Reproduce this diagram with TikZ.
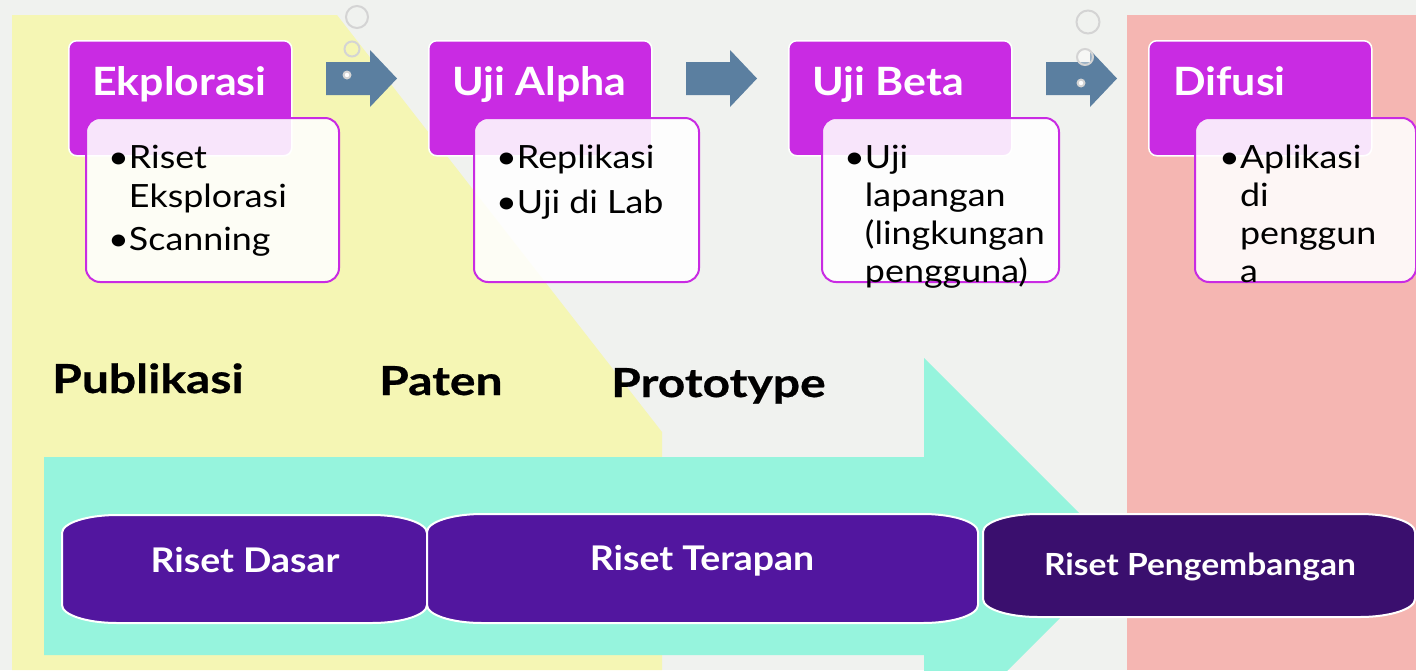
\documentclass[tikz,border=0pt]{standalone}
\usepackage{fontspec}
\setmainfont{Lato}
\newfontfamily\bodyf[FakeStretch=1.12]{Lato}
\newfontfamily\boldf[FakeStretch=1.1]{Lato}
\newfontfamily\lblf[FakeStretch=1.2,FakeBold=0.6]{Lato}
\definecolor{bgc}{RGB}{240,242,239}
\definecolor{yel}{RGB}{245,246,180}
\definecolor{pnk}{RGB}{245,182,178}
\definecolor{teal2}{RGB}{150,244,221}
\definecolor{steel}{RGB}{91,127,160}
\definecolor{mag}{RGB}{201,43,227}
\definecolor{purA}{RGB}{82,22,159}
\definecolor{purB}{RGB}{58,15,110}
\definecolor{ring}{RGB}{212,212,212}
\newcommand\ribbonbox[5]{%
 \filldraw[fill=#5, draw=white, line width=2pt]
  (#1,{#2+18}) .. controls (#1,{#2+8}) and ({#1+25},#2) .. ({#1+55},#2)
  -- ({#3-55},#2) .. controls ({#3-25},#2) and (#3,{#2+8}) .. (#3,{#2+18})
  -- (#3,{#4-18}) .. controls (#3,{#4-8}) and ({#3-25},#4) .. ({#3-55},#4)
  -- ({#1+55},#4) .. controls ({#1+25},#4) and (#1,{#4-8}) .. (#1,{#4-18}) -- cycle;}
\tikzset{
 body/.style={anchor=base west, inner sep=0pt, font=\bodyf\fontsize{32}{38}\selectfont, text=black},
 ttl/.style={anchor=base west, inner sep=0pt, font=\boldf\bfseries\fontsize{39}{44}\selectfont, text=white},
 lbl/.style={anchor=base west, inner sep=0pt, font=\lblf\bfseries\fontsize{40}{44}\selectfont, text=black},
 rtext/.style={anchor=base, inner sep=0pt, font=\boldf\bfseries\fontsize{34}{38}\selectfont, text=white},
 tbox/.style={anchor=north west, inner sep=0pt, fill=mag, draw=white, line width=1.5pt, rounded corners=8pt, minimum width=223pt, minimum height=115pt},
 dbox/.style={anchor=north west, inner sep=0pt, fill=white, fill opacity=0.88, draw=mag, draw opacity=1, line width=2pt, rounded corners=14pt, minimum height=164pt},
 barrow/.style={fill=steel},
 ringc/.style={draw=ring, line width=2pt},
}
\begin{document}
\begin{tikzpicture}[x=1pt,y=-1pt]
\useasboundingbox (0,0) rectangle (1416,670);
\clip (0,0) rectangle (1416,670);
\fill[bgc] (0,0) rectangle (1416,670);
% background zones
\fill[yel] (12,15) -- (337,15) -- (662,432) -- (662,670) -- (12,670) -- cycle;
\fill[pnk] (1127,15) rectangle (1416,670);
\fill[teal2] (44,457) -- (924,457) -- (924,358) -- (1122,556) -- (924,754) -- (924,655) -- (44,655) -- cycle;
% outputs
\node[lbl] (pub) at (52,393) {Publikasi};
\node[lbl] (pat) at (379,395) {Paten};
\node[lbl] (pro) at (611,397) {Prototype};
% research stages
\ribbonbox{62}{515}{427}{623}{purA}
\ribbonbox{427}{514}{978}{623}{purA}
\ribbonbox{983}{514}{1415}{617}{purB}
\node[rtext] (rd) at (245,572) {Riset Dasar};
\node[rtext] (rt) at (702,570) {Riset Terapan};
\node[rtext, font=\boldf\bfseries\fontsize{30.5}{36}\selectfont] (rp) at (1200,575) {Riset Pengembangan};
% blue arrows
\foreach \x in {326,686,1046}{
 \fill[barrow] (\x,62) -- ({\x+44},62) -- ({\x+44},50) -- ({\x+71},78.5) -- ({\x+44},107) -- ({\x+44},95) -- (\x,95) -- cycle;}
% bubbles
\draw[ringc] (357,17) circle[radius=11];
\draw[ringc] (352,49) circle[radius=7.5];
\fill[ring] (347,75) circle[radius=4.5];
\fill[white] (347,75) circle[radius=2.2];
\draw[ringc] (1088,22) circle[radius=11.5];
\draw[ringc, fill=white, fill opacity=0.4] (1085,57) circle[radius=8];
\fill[ring] (1081,83) circle[radius=4.5];
\fill[white] (1081,83) circle[radius=2.2];
% title boxes
\node[tbox] (b1) at (68,40) {};
\node[tbox] (b2) at (428,40) {};
\node[tbox] (b3) at (788,40) {};
\node[tbox] (b4) at (1148,40) {};
\node[ttl] (t1) at (92,95) {Ekplorasi};
\node[ttl] (t2) at (452,95) {Uji Alpha};
\node[ttl] (t3) at (812,95) {Uji Beta};
\node[ttl] (t4) at (1173,95) {Difusi};
% detail boxes
\node[dbox, minimum width=253pt] (d1) at (85,117) {};
\node[dbox, minimum width=225pt] (d2) at (473,117) {};
\node[dbox, minimum width=237pt] (d3) at (821,117) {};
\node[dbox, minimum width=221pt] (d4) at (1194,117) {};
% detail text
\node[body] (d1a) at (108,168) {•Riset};
\node[body] (d1b) at (108,207) {\hphantom{•}Eksplorasi};
\node[body] (d1c) at (108,250) {•Scanning};
\node[body] (d2a) at (496,168) {•Replikasi};
\node[body] (d2b) at (496,213) {•Uji di Lab};
\node[body] (d3a) at (844,168) {•Uji};
\node[body] (d3b) at (844,206) {\hphantom{•}lapangan};
\node[body] (d3c) at (844,244) {\hphantom{•}(lingkungan};
\node[body] (d3d) at (844,282) {\hphantom{•}pengguna)};
\node[body] (d4a) at (1219,168) {•Aplikasi};
\node[body] (d4b) at (1219,206) {\hphantom{•}di};
\node[body] (d4c) at (1219,244) {\hphantom{•}penggun};
\node[body] (d4d) at (1219,282) {\hphantom{•}a};
\end{tikzpicture}
\end{document}
